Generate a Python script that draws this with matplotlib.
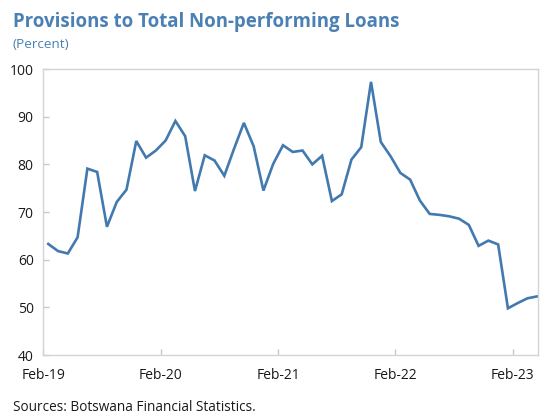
import numpy as np
import matplotlib
matplotlib.use("Agg")
import matplotlib.pyplot as plt

# monthly ratio, Feb-19 .. Apr-23
values = [63.3, 61.8, 61.3, 64.7, 79.1, 78.4, 66.9, 72.1, 74.7, 84.9,
          81.4, 82.9, 85.0, 89.1, 85.9, 74.4, 81.9, 80.8, 77.6, 83.3,
          88.7, 83.8, 74.5, 80.1, 84.0, 82.6, 82.9, 80.0, 81.8, 72.3,
          73.7, 81.0, 83.6, 97.3, 84.7, 81.7, 78.2, 76.8, 72.4, 69.6,
          69.4, 69.1, 68.6, 67.3, 62.9, 64.0, 63.2, 49.8, 50.9, 51.9,
          52.3]
tick_labels = ["Feb-19", "Feb-20", "Feb-21", "Feb-22", "Feb-23"]
tick_months = [0, 12, 24, 36, 48]
y_ticks = [40, 50, 60, 70, 80, 90, 100]

plt.rcParams['font.family'] = ['Open Sans', 'DejaVu Sans']

fig = plt.figure(figsize=(5.47, 4.19), dpi=100)
ax = fig.add_axes([0.0793, 0.1527, 0.9047, 0.6826])

x = np.arange(len(values)) + 0.5
ax.plot(x, values, color='#4279ae', linewidth=1.9, solid_joinstyle='miter')

ax.set_xlim(0, 50.6)
ax.set_ylim(40, 100)
ax.set_yticks(y_ticks)
ax.set_xticks(tick_months)
ax.set_xticklabels(tick_labels)

for s in ax.spines.values():
    s.set_color('#d4d4d4')
    s.set_linewidth(1.0)
ax.tick_params(axis='both', direction='in', length=4, width=1.0,
               color='#c8c8c8', labelsize=10, labelcolor='#1a1a1a')
ax.tick_params(axis='x', pad=9)
ax.tick_params(axis='y', pad=7)

fig.text(0.023, 0.936, "Provisions to Total Non-performing Loans",
         fontsize=13.4, fontweight='bold', color='#4a80b4', va='baseline')
fig.text(0.023, 0.885, "(Percent)", fontsize=9.7, color='#4a80b4',
         va='baseline')
fig.text(0.023, 0.018, "Sources: Botswana Financial Statistics.",
         fontsize=9.8, color='#1a1a1a', va='baseline')

fig.savefig("out.png", dpi=100)
